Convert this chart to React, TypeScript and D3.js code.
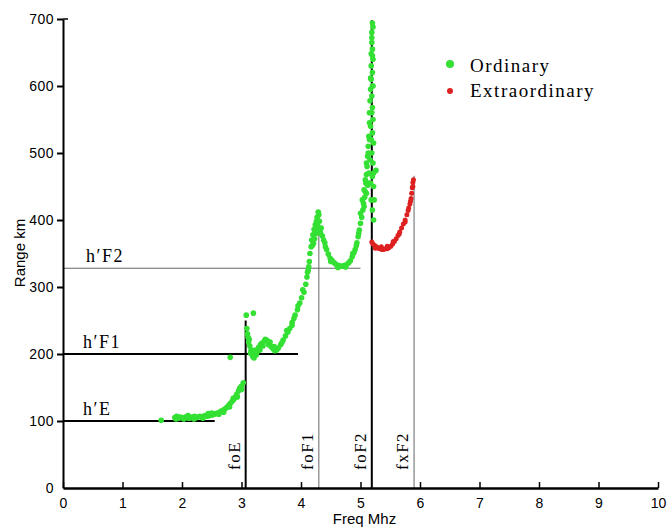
import * as d3 from "d3";
import { useEffect, useRef } from "react";

// ordinary trace, [freq MHz, virtual range km]
const eLayerPoints: [number, number][] = [
  [1.65, 101], [1.88, 105], [1.91, 107], [1.94, 104], [1.97, 106], [2.0, 105],
  [2.03, 103], [2.06, 106], [2.09, 105], [2.12, 104], [2.15, 106], [2.18, 105],
  [2.21, 107], [2.24, 105], [2.27, 106], [2.3, 107], [2.33, 106], [2.36, 107],
  [2.39, 108], [2.42, 107], [2.45, 108], [2.48, 109], [2.51, 109], [2.54, 110],
  [2.57, 111], [2.6, 112], [2.63, 113], [2.66, 115], [2.69, 116], [2.72, 118],
  [2.75, 120], [2.78, 123], [2.81, 126], [2.84, 129], [2.87, 132], [2.9, 136],
  [2.92, 140], [2.95, 145], [2.97, 149], [3.0, 152], [3.03, 157], [2.81, 195],
  [2.1, 108], [2.2, 103], [2.35, 104], [2.5, 112], [2.62, 110], [2.7, 113],
  [2.8, 121], [2.86, 134], [2.93, 136], [3.0, 147], [1.9, 103], [2.44, 111],
];

const f1LayerPoints: [number, number][] = [
  [3.08, 258], [3.2, 261], [3.09, 238], [3.1, 230], [3.11, 225], [3.12, 218],
  [3.14, 212], [3.16, 206], [3.18, 200], [3.19, 196], [3.21, 194], [3.23, 206],
  [3.25, 199], [3.27, 204], [3.29, 210], [3.31, 206], [3.34, 216], [3.36, 212],
  [3.38, 219], [3.4, 222], [3.42, 221], [3.45, 214], [3.48, 218], [3.5, 211],
  [3.53, 208], [3.56, 205], [3.59, 206], [3.62, 209], [3.66, 214], [3.7, 221],
  [3.74, 227], [3.78, 233], [3.81, 238], [3.85, 247], [3.88, 253], [3.9, 258],
  [3.94, 266], [3.98, 276], [4.01, 284], [4.05, 292], [4.08, 304], [4.1, 315],
  [4.12, 325], [4.14, 338], [4.15, 350], [4.17, 360], [4.18, 370], [4.2, 378],
  [4.22, 386], [4.24, 393], [4.26, 398], [4.27, 404], [4.29, 412], [4.3, 408],
  [4.28, 392], [4.25, 380], [4.21, 365], [4.31, 398], [4.32, 384], [4.34, 388],
  [4.36, 376], [4.38, 370], [4.4, 366], [4.43, 356], [4.46, 349], [4.49, 343],
  [4.52, 340], [4.56, 336], [4.6, 333], [4.64, 332], [4.68, 331], [4.72, 332],
  [4.76, 333], [4.8, 336], [4.83, 339], [4.86, 345], [4.89, 351], [4.91, 356],
  [4.94, 366], [4.96, 375], [4.98, 385], [5.0, 395],
  [3.13, 222], [3.15, 201], [3.24, 201], [3.32, 214], [3.44, 219], [3.55, 211],
  [3.68, 217], [3.76, 235], [3.85, 243], [3.95, 272], [4.03, 296], [4.11, 322],
  [4.13, 330], [4.19, 362], [4.23, 372], [4.26, 388], [4.33, 380], [4.41, 360],
  [4.5, 338], [4.62, 329], [4.75, 330], [4.87, 350], [4.93, 362], [4.97, 380],
];

const f2LayerPoints: [number, number][] = [
  [5.02, 404], [5.04, 415], [5.05, 425], [5.07, 434], [5.08, 442], [5.09, 455],
  [5.1, 468], [5.11, 480], [5.12, 495], [5.13, 510], [5.14, 525], [5.15, 545],
  [5.15, 560], [5.16, 578], [5.17, 595], [5.17, 612], [5.18, 630], [5.18, 648],
  [5.19, 665], [5.19, 680], [5.2, 694], [5.21, 688], [5.2, 655], [5.21, 640],
  [5.2, 620], [5.21, 600], [5.19, 585], [5.2, 568], [5.21, 550], [5.2, 530],
  [5.22, 515], [5.19, 500], [5.21, 485], [5.26, 474], [5.2, 465], [5.22, 450],
  [5.17, 455], [5.14, 470], [5.12, 452], [5.1, 440], [5.06, 420], [5.18, 430],
  [5.2, 415], [5.16, 490], [5.18, 520], [5.17, 540], [5.19, 560], [5.2, 600],
  [5.18, 610], [5.2, 645], [5.19, 672],
  [5.0, 410], [5.03, 430], [5.06, 445], [5.08, 460], [5.1, 485], [5.13, 500],
  [5.15, 520], [5.22, 470], [5.23, 430], [5.22, 400], [5.14, 455],
];

// extraordinary trace
const xTracePoints: [number, number][] = [
  [5.19, 367], [5.21, 364], [5.24, 362], [5.27, 360], [5.3, 358], [5.33, 357],
  [5.36, 356], [5.39, 356], [5.42, 357], [5.45, 357], [5.48, 359], [5.51, 361],
  [5.54, 364], [5.57, 368], [5.6, 372], [5.63, 377], [5.66, 382], [5.69, 388],
  [5.72, 394], [5.75, 400], [5.78, 408], [5.8, 414], [5.83, 424], [5.85, 432],
  [5.86, 440], [5.87, 448], [5.88, 456], [5.89, 460], [5.81, 418],
  [5.25, 358], [5.35, 360], [5.45, 361], [5.55, 368], [5.65, 379], [5.75, 397],
  [5.84, 428], [5.88, 450],
];

const heightLabels = ["h′E", "h′F1", "h′F2"];
const heightValues = [100, 200, 328];
const heightEnds = [2.55, 3.95, 5.0];

const freqLabels = ["foE", "foF1", "foF2", "fxF2"];
const freqValues = [3.07, 4.3, 5.19, 5.9];
const freqTops = [250, 413, 698, 466];

const xTicks = [0, 1, 2, 3, 4, 5, 6, 7, 8, 9, 10];
const yTicks = [0, 100, 200, 300, 400, 500, 600, 700];

const legendLabels = ["Ordinary", "Extraordinary"];

export default function App() {
  const width = 668;
  const height = 529;
  const marginLeft = 63;
  const marginRight = 10;
  const marginTop = 19;
  const marginBottom = 41;

  const ref = useRef(null);
  useEffect((): void => {
    if (!ref.current) return;
    const svg = d3.select(ref.current);
    svg.selectAll("*").remove();

    const green = "#33e033";
    const red = "#dd2020";
    const serif = "'Liberation Serif', 'Times New Roman', serif";
    const sans = "'Liberation Sans', Arial, sans-serif";

    const x = d3.scaleLinear().domain([0, 10]).range([marginLeft, width - marginRight]);
    const y = d3.scaleLinear().domain([0, 700]).range([height - marginBottom, marginTop]);

    // reference lines
    const hl = svg.append("g");
    heightValues.forEach((h, i) => {
      hl.append("line")
        .attr("x1", x(0)).attr("x2", x(heightEnds[i]))
        .attr("y1", y(h)).attr("y2", y(h))
        .attr("stroke", i === 2 ? "#666" : "#000")
        .attr("stroke-width", i === 2 ? 1 : 2);
      hl.append("text")
        .attr("x", x(0) + 20 + (i === 2 ? 3 : 0))
        .attr("y", y(h) - 6)
        .attr("font-family", serif)
        .attr("font-size", 18)
        .attr("letter-spacing", 1.5)
        .text(heightLabels[i]);
    });
    freqValues.forEach((f, i) => {
      const strong = i === 0 || i === 2;
      hl.append("line")
        .attr("x1", x(f)).attr("x2", x(f))
        .attr("y1", y(0)).attr("y2", y(freqTops[i]))
        .attr("stroke", strong ? "#000" : "#666")
        .attr("stroke-width", strong ? 2 : 1);
      hl.append("text")
        .attr("transform", `translate(${x(f) - 6},470) rotate(-90)`)
        .attr("font-family", serif)
        .attr("font-size", 17)
        .attr("letter-spacing", 1.5)
        .text(freqLabels[i]);
    });

    // points
    const ordinary = [...eLayerPoints, ...f1LayerPoints, ...f2LayerPoints];
    svg.append("g")
      .selectAll("circle")
      .data(ordinary)
      .join("circle")
      .attr("cx", (d) => x(d[0]))
      .attr("cy", (d) => y(d[1]))
      .attr("r", 2.8)
      .attr("fill", green);
    svg.append("g")
      .selectAll("circle")
      .data(xTracePoints)
      .join("circle")
      .attr("cx", (d) => x(d[0]))
      .attr("cy", (d) => y(d[1]))
      .attr("r", 2.5)
      .attr("fill", red);

    // axes
    const xAxis = svg.append("g")
      .attr("transform", `translate(0,${y(0)})`)
      .call(
        d3.axisBottom(x).tickValues(xTicks).tickSizeInner(-6).tickSizeOuter(0).tickPadding(10)
          .tickFormat((d) => `${d}`),
      );
    xAxis.select(".domain").attr("stroke-width", 2.5);
    xAxis.selectAll(".tick line").attr("stroke-width", 1.5);
    xAxis.selectAll("text").attr("font-family", sans).attr("font-size", 14).attr("fill", "#000");

    const yAxis = svg.append("g")
      .attr("transform", `translate(${x(0)},0)`)
      .call(
        d3.axisLeft(y).tickValues(yTicks).tickSizeInner(6).tickSizeOuter(0).tickPadding(3)
          .tickFormat((d) => `${d}`),
      );
    yAxis.select(".domain").attr("stroke-width", 2);
    yAxis.selectAll(".tick line").attr("stroke-width", 2);
    yAxis.selectAll(".tick").filter((d) => d === 0).select("line").remove();
    yAxis.selectAll("text").attr("font-family", sans).attr("font-size", 14).attr("fill", "#000").attr("letter-spacing", 0.5);
    svg.append("line")
      .attr("x1", x(0)).attr("x2", x(0) + 5)
      .attr("y1", y(700)).attr("y2", y(700))
      .attr("stroke", "#000").attr("stroke-width", 1.5);

    svg.append("text")
      .attr("x", (x(0) + x(10)) / 2 + 4)
      .attr("y", 524)
      .attr("text-anchor", "middle")
      .attr("font-family", sans)
      .attr("font-size", 15)
      .text("Freq Mhz");
    svg.append("text")
      .attr("transform", `translate(25,${253}) rotate(-90)`)
      .attr("text-anchor", "middle")
      .attr("font-family", sans)
      .attr("font-size", 15)
      .text("Range km");

    // legend
    const legend = svg.append("g");
    [green, red].forEach((c, i) => {
      legend.append("circle")
        .attr("cx", 450).attr("cy", 64 + i * 27)
        .attr("r", i === 0 ? 4 : 3)
        .attr("fill", c);
      legend.append("text")
        .attr("x", 470).attr("y", 72 + i * 25)
        .attr("font-family", serif)
        .attr("font-size", 19)
        .attr("letter-spacing", 1.5)
        .text(legendLabels[i]);
    });
  }, []);

  return (
    <>
      <style>{`body{margin:0}`}</style>
      <svg ref={ref} width={width} height={height} style={{ display: "block", background: "#fff" }} />
    </>
  );
}
